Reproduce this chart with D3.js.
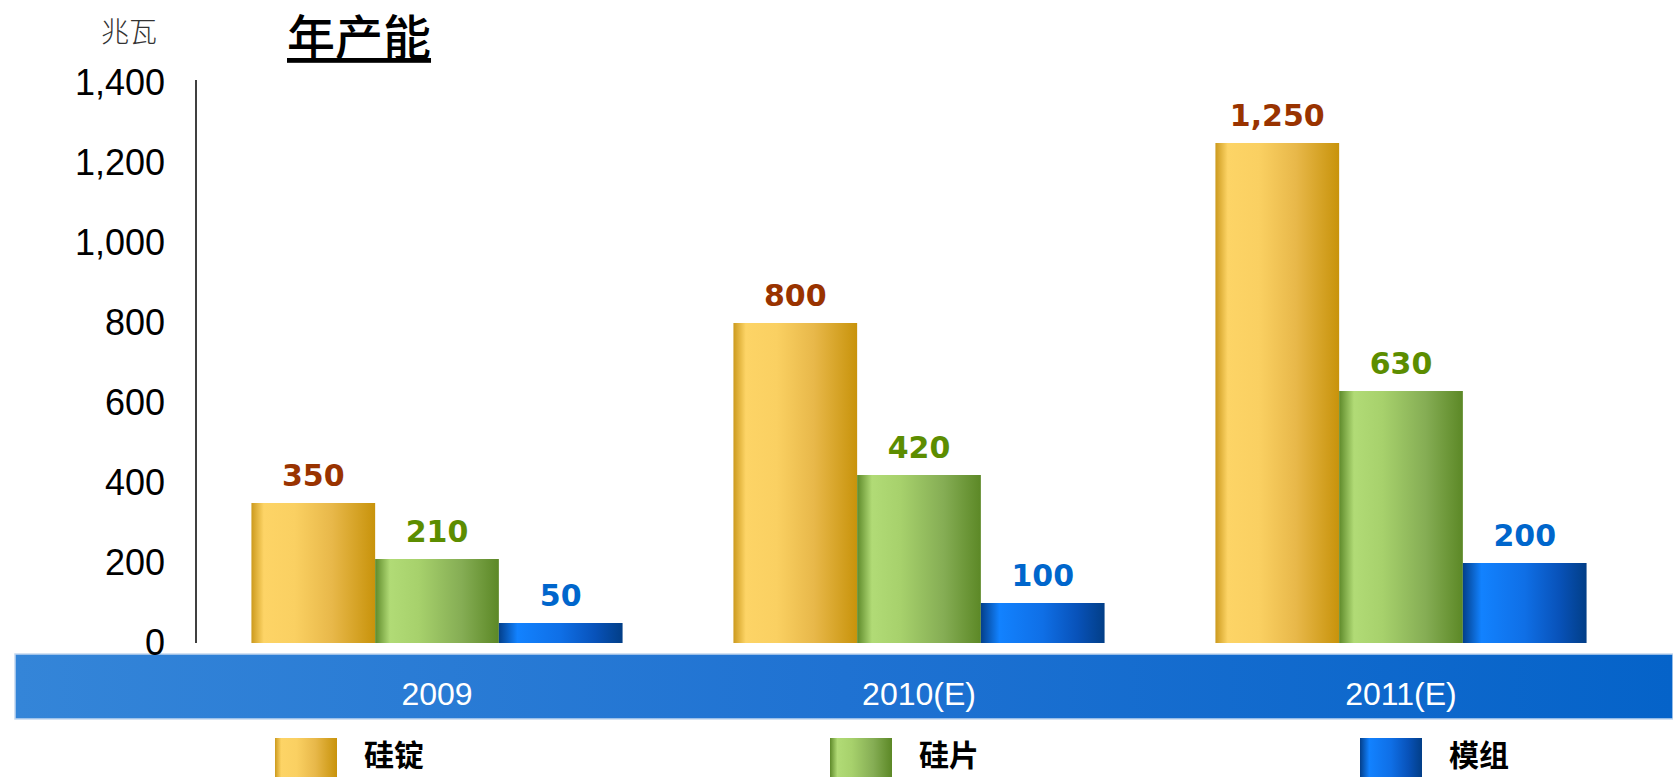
<!DOCTYPE html>
<html>
<head>
<meta charset="utf-8">
<script src="https://cdn.jsdelivr.net/npm/d3@7"></script>
<style>
  body { margin: 0; background: #fff; }
  svg { display: block; }
</style>
</head>
<body>
<div id="app"></div>
<script>
const WIDTH = 1673;
const HEIGHT = 777;

// data
const categories = ['2009', '2010(E)', '2011(E)'];
const seriesNames = ['硅锭', '硅片', '模组'];
const ingot = [350, 800, 1250];
const wafer = [210, 420, 630];
const modules = [50, 100, 200];
const yTicks = [0, 200, 400, 600, 800, 1000, 1200, 1400];
const unitLabel = '兆瓦';
const title = '年产能';

const seriesValues = [ingot, wafer, modules];
const labelColors = ['#993300', '#5c8d00', '#0066cc'];
const gradStops = [
  [[0, '#cc9a1e'], [0.1, '#fdd466'], [0.35, '#fad062'], [0.65, '#e8b84a'], [1, '#c8930b']],
  [[0, '#5e8a2a'], [0.12, '#b1db76'], [0.35, '#a7d16c'], [0.7, '#85ad54'], [1, '#5c8826']],
  [[0, '#033f8b'], [0.15, '#1282ff'], [0.5, '#0f6fe6'], [0.78, '#0852b9'], [1, '#023e87']]
];

const rows = categories.map((c, i) => ({
  cat: c,
  vals: seriesNames.map((s, j) => ({ key: j, value: seriesValues[j][i] }))
}));

const svg = d3.select('#app')
  .append('svg')
    .attr('width', WIDTH)
    .attr('height', HEIGHT);

const defs = svg.append('defs');
gradStops.forEach((stops, j) => {
  const g = defs.append('linearGradient')
    .attr('id', 'grad' + j)
    .attr('x1', '0%').attr('x2', '100%')
    .attr('y1', '0%').attr('y2', '0%');
  stops.forEach(s => g.append('stop').attr('offset', s[0]).attr('stop-color', s[1]));
});
const bandGrad = defs.append('linearGradient')
  .attr('id', 'bandGrad')
  .attr('x1', '0%').attr('x2', '100%');
bandGrad.append('stop').attr('offset', 0).attr('stop-color', '#3485d8');
bandGrad.append('stop').attr('offset', 0.5).attr('stop-color', '#1f72d2');
bandGrad.append('stop').attr('offset', 1).attr('stop-color', '#0563c9');

const x = d3.scaleBand()
  .domain(categories)
  .range([196, 1642])
  .paddingInner(0.23)
  .paddingOuter(0.115);

const xInner = d3.scaleBand()
  .domain(d3.range(seriesNames.length))
  .range([0, x.bandwidth()]);

const y = d3.scaleLinear()
  .domain([0, 1400])
  .range([643, 83]);

// category band
svg.append('rect')
  .attr('x', 15)
  .attr('y', 654)
  .attr('width', WIDTH - 15)
  .attr('height', 65)
  .attr('fill', 'url(#bandGrad)')
  .attr('stroke', '#c3d8f0')
  .attr('stroke-width', 1.5);

svg.selectAll('.cat-label')
  .data(categories)
  .enter()
    .append('text')
    .attr('class', 'cat-label')
    .attr('x', d => x(d) + x.bandwidth() / 2)
    .attr('y', 705)
    .attr('text-anchor', 'middle')
    .attr('fill', '#fff')
    .style('font-family', 'Liberation Sans, Arial, sans-serif')
    .style('font-size', '32px')
    .text(d => d);

// y axis
const axis = d3.axisLeft(y)
  .tickValues(yTicks)
  .tickSize(0)
  .tickSizeOuter(0)
  .tickPadding(31)
  .tickFormat(d3.format(','));

const gAxis = svg.append('g')
  .attr('transform', 'translate(196, 0)')
  .call(axis);
gAxis.select('.domain')
  .attr('stroke', '#000')
  .attr('stroke-width', 1.5)
  .attr('d', `M0,${y(1400) - 3}V${y(0)}`);
gAxis.selectAll('text')
  .attr('fill', '#000')
  .style('font-family', 'Liberation Sans, Arial, sans-serif')
  .style('font-size', '36px');

// bars
const groups = svg.selectAll('.group')
  .data(rows)
  .enter()
    .append('g')
    .attr('class', 'group')
    .attr('transform', d => `translate(${x(d.cat)}, 0)`);

groups.selectAll('rect')
  .data(d => d.vals)
  .enter()
    .append('rect')
    .attr('x', d => xInner(d.key))
    .attr('y', d => y(d.value))
    .attr('width', xInner.bandwidth())
    .attr('height', d => y(0) - y(d.value))
    .attr('fill', d => `url(#grad${d.key})`);

groups.selectAll('.val')
  .data(d => d.vals)
  .enter()
    .append('text')
    .attr('class', 'val')
    .attr('x', d => xInner(d.key) + xInner.bandwidth() / 2)
    .attr('y', d => y(d.value) - 17)
    .attr('text-anchor', 'middle')
    .attr('fill', d => labelColors[d.key])
    .style('font-family', 'DejaVu Sans, Verdana, sans-serif')
    .style('font-weight', 'bold')
    .style('font-size', '30px')
    .text(d => d3.format(',')(d.value));

// unit + title
svg.append('text')
  .attr('x', 129)
  .attr('y', 42)
  .attr('text-anchor', 'middle')
  .attr('fill', '#333')
  .style('font-family', 'Noto Sans CJK SC, sans-serif')
  .style('font-weight', 300)
  .style('font-size', '28px')
  .text(unitLabel);

svg.append('text')
  .attr('x', 287)
  .attr('y', 55)
  .attr('fill', '#000')
  .style('font-family', 'Noto Sans CJK SC, sans-serif')
  .style('font-weight', 500)
  .style('font-size', '48px')
  .style('text-decoration', 'underline')
  .text(title);

// legend
const legendX = d3.scaleOrdinal()
  .domain(d3.range(seriesNames.length))
  .range([275, 830, 1360]);

const legend = svg.selectAll('.legend')
  .data(seriesNames)
  .enter()
    .append('g')
    .attr('class', 'legend')
    .attr('transform', (d, i) => `translate(${legendX(i)}, 738)`);

legend.append('rect')
  .attr('width', 62)
  .attr('height', 42)
  .attr('fill', (d, i) => `url(#grad${i})`);

legend.append('text')
  .attr('x', 89)
  .attr('y', 28)
  .attr('fill', '#000')
  .style('font-family', 'Noto Sans CJK SC, sans-serif')
  .style('font-weight', 'bold')
  .style('font-size', '30px')
  .text(d => d);
</script>
</body>
</html>
